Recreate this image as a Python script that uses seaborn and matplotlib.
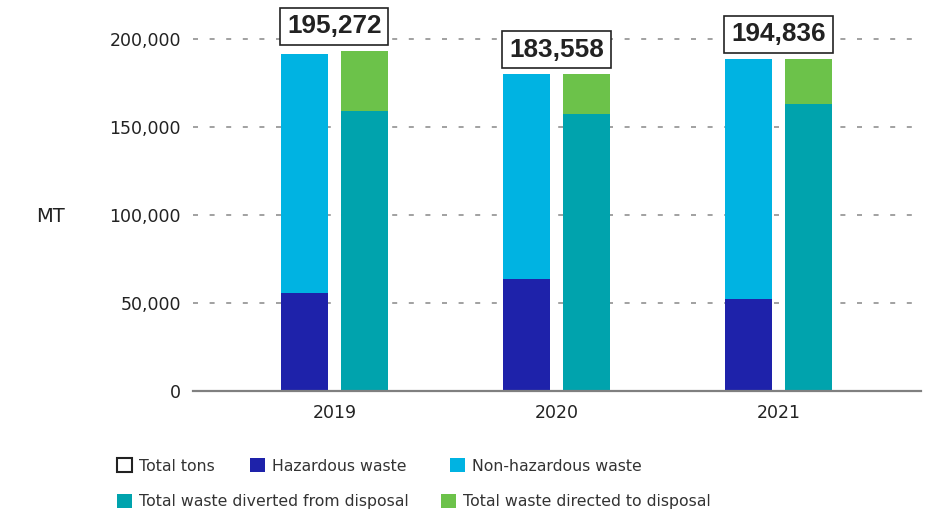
import matplotlib
matplotlib.use("Agg")
import matplotlib.pyplot as plt
import seaborn as sns
import pandas as pd
from matplotlib.patches import Patch
from matplotlib.ticker import FuncFormatter

# ---- data ----
years = ["2019", "2020", "2021"]
total_tons = [195272, 183558, 194836]
hazardous = [55400, 63400, 52000]
non_hazardous = [135800, 116400, 136400]
diverted = [159000, 157100, 162800]
directed = [33900, 22700, 25600]
groups = ["Composition", "Disposal"]
y_ticks = [0, 50000, 100000, 150000, 200000]
legend_labels = ["Total tons", "Hazardous waste", "Non-hazardous waste",
                 "Total waste diverted from disposal", "Total waste directed to disposal"]

# ---- colors ----
C_HAZ = "#1E22AA"
C_NONHAZ = "#00B3E2"
C_DIVERTED = "#00A3AD"
C_DIRECTED = "#6CC24A"
C_TEXT = "#222222"

sns.set_theme(style="white")
plt.rcParams["font.family"] = ["DejaVu Sans"]

comp_top = [h + n for h, n in zip(hazardous, non_hazardous)]
disp_top = [d + r for d, r in zip(diverted, directed)]

df = pd.DataFrame({
    "year": years * 2,
    "group": [groups[0]] * len(years) + [groups[1]] * len(years),
    "top": comp_top + disp_top,
    "bottom": hazardous + diverted,
})

fig = plt.figure(figsize=(9.38, 5.14), dpi=100)
ax = fig.add_axes([193 / 938, 1 - 390.5 / 514, 728 / 938, (390.5 - 30) / 514])

common = dict(data=df, x="year", hue="group", order=years, hue_order=groups,
              width=0.54, gap=0.216, saturation=1, errorbar=None, legend=False,
              ax=ax, linewidth=0)
sns.barplot(y="top", palette={groups[0]: C_NONHAZ, groups[1]: C_DIRECTED}, **common)
sns.barplot(y="bottom", palette={groups[0]: C_HAZ, groups[1]: C_DIVERTED}, **common)

ax.set_xlim(-0.637, 2.642)
ax.set_ylim(0, (390.5 - 30) / 1.76 * 1000)
ax.set_yticks(y_ticks)
ax.yaxis.set_major_formatter(FuncFormatter(lambda v, p: f"{v:,.0f}"))
ax.set_xlabel("")
ax.set_ylabel("")
ax.set_axisbelow(True)
ax.yaxis.grid(True, color="#a3a3a3", lw=1.44, ls=(0, (2.5, 5.8)))
ax.xaxis.grid(False)
for s in ["top", "right", "left"]:
    ax.spines[s].set_visible(False)
ax.spines["bottom"].set_color("#808080")
ax.spines["bottom"].set_linewidth(1.6)
ax.spines["bottom"].set_zorder(5)
ax.tick_params(axis="y", length=0, pad=8.6, labelsize=12.5, labelcolor=C_TEXT)
ax.tick_params(axis="x", length=0, pad=9.5, labelsize=12.5, labelcolor=C_TEXT)

# total tons boxes
for i in range(len(years)):
    top = max(comp_top[i], disp_top[i])
    ax.annotate(f"{total_tons[i]:,}", xy=(i, top), xytext=(0, 9),
                textcoords="offset points", ha="center", va="bottom",
                fontsize=18.8, fontweight="bold", family="Liberation Sans",
                color=C_TEXT, annotation_clip=False, zorder=6,
                bbox=dict(boxstyle="square,pad=0.26", fc="white", ec=C_TEXT, lw=1.2))

fig.text(36 / 938, 1 - 216 / 514, "MT", fontsize=14, color=C_TEXT,
         ha="left", va="center")

# legend (individual entries placed like the reference)
handles = [
    Patch(facecolor="white", edgecolor=C_TEXT, linewidth=1.5),
    Patch(facecolor=C_HAZ, edgecolor="none"),
    Patch(facecolor=C_NONHAZ, edgecolor="none"),
    Patch(facecolor=C_DIVERTED, edgecolor="none"),
    Patch(facecolor=C_DIRECTED, edgecolor="none"),
]
positions = [(117, 466), (250, 466), (450, 466), (117, 501.5), (441, 501.5)]
for h, lab, (px, py) in zip(handles, legend_labels, positions):
    fig.legend(handles=[h], labels=[lab], loc="center left",
               bbox_to_anchor=(px / 938, 1 - py / 514), frameon=False,
               borderpad=0, borderaxespad=0, handlelength=0.97, handleheight=0.97,
               handletextpad=0.42, fontsize=11.3, labelcolor="#333333")

fig.savefig("out.png", dpi=100)
